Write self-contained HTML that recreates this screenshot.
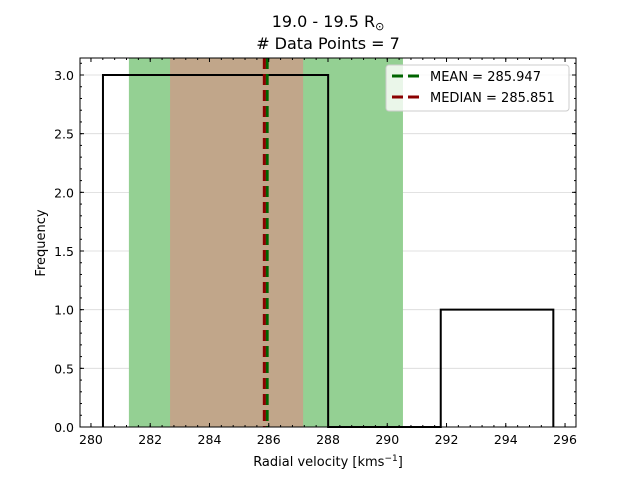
<!DOCTYPE html>
<html><head><meta charset="utf-8"><style>
body{margin:0;background:#fff;}
svg text{font-family:"DejaVu Sans","Liberation Sans",sans-serif;}
</style></head><body>
<svg id="chart" width="640" height="480" xmlns="http://www.w3.org/2000/svg">
<rect width="640" height="480" fill="#fff"/>
<text x="328" y="27" font-size="16" text-anchor="middle">19.0 - 19.5 R<tspan font-size="11" dy="3">⊙</tspan></text>
<text x="328" y="49" font-size="16" text-anchor="middle"># Data Points = 7</text>
<g id="plot"></g>
<text x="328" y="466" font-size="13" text-anchor="middle">Radial velocity [kms<tspan font-size="9" dy="-5">−1</tspan><tspan dy="5">]</tspan></text>
<text transform="translate(45,243) rotate(-90)" font-size="13" text-anchor="middle">Frequency</text>
</svg>
<script>
const binEdges=[280.405,284.205,288.005,291.805,295.605];
const counts=[3,3,0,1];
const meanVal=285.947, medianVal=285.851;
const stdBand=[281.28,290.53];
const iqrBand=[282.67,287.16];
const xTicks=[280,282,284,286,288,290,292,294,296];
const yTicks=[0,0.5,1,1.5,2,2.5,3];
const X0=80,X1=576,Y0=427,Y1=58;
const xmin=279.63,xmax=296.37,ymin=0,ymax=3.145;
const sx=v=>X0+(v-xmin)/(xmax-xmin)*(X1-X0);
const sy=v=>Y0-(v-ymin)/(ymax-ymin)*(Y0-Y1);
const NS="http://www.w3.org/2000/svg";
const g=document.getElementById('plot');
function mk(t,a){const e=document.createElementNS(NS,t);for(const k in a)e.setAttribute(k,a[k]);g.appendChild(e);return e;}
yTicks.forEach(v=>{const l=mk('line',{x1:X0,x2:X1,y1:sy(v),y2:sy(v),stroke:'#d9d9d9','stroke-width':0.8});

});
let r=mk('rect',{x:sx(stdBand[0]),y:Y1,width:sx(stdBand[1])-sx(stdBand[0]),height:Y0-Y1,fill:'#94d093'});


r=mk('rect',{x:sx(iqrBand[0]),y:Y1,width:sx(iqrBand[1])-sx(iqrBand[0]),height:Y0-Y1,fill:'#c1a68a'});


let d='M'+sx(binEdges[0])+','+sy(0);
counts.forEach((c,i)=>{d+=' L'+sx(binEdges[i])+','+sy(c)+' L'+sx(binEdges[i+1])+','+sy(c);});
d+=' L'+sx(binEdges[binEdges.length-1])+','+sy(0);
const h=mk('path',{d:d,fill:'none',stroke:'#000','stroke-width':2});


let l=mk('line',{x1:sx(meanVal),x2:sx(meanVal),y1:Y1,y2:Y0,stroke:'#006400','stroke-width':3,'stroke-dasharray':'11,5'});


l=mk('line',{x1:sx(medianVal),x2:sx(medianVal),y1:Y1,y2:Y0,stroke:'#8b0000','stroke-width':3,'stroke-dasharray':'11,5'});


const f=mk('rect',{x:X0,y:Y1,width:X1-X0,height:Y0-Y1,fill:'none',stroke:'#000','stroke-width':1});


xTicks.forEach(v=>{const x=sx(v);
mk('line',{x1:x,x2:x,y1:Y0,y2:Y0-4,stroke:'#000'});mk('line',{x1:x,x2:x,y1:Y1,y2:Y1+4,stroke:'#000'});
const t=mk('text',{x:x,y:Y0+17,'font-size':12.5,'text-anchor':'middle'});t.textContent=v;

});
for(let v=280;v<=296.01;v+=0.4){const x=sx(v);mk('line',{x1:x,x2:x,y1:Y0,y2:Y0-2,stroke:'#000'});mk('line',{x1:x,x2:x,y1:Y1,y2:Y1+2,stroke:'#000'});}
yTicks.forEach(v=>{const y=sy(v);
mk('line',{x1:X0,x2:X0+4,y1:y,y2:y,stroke:'#000'});mk('line',{x1:X1,x2:X1-4,y1:y,y2:y,stroke:'#000'});
const t=mk('text',{x:X0-6,y:y+5,'font-size':12.5,'text-anchor':'end'});t.textContent=v.toFixed(1);

});
for(let v=0;v<=3.15;v+=0.1){const y=sy(v);mk('line',{x1:X0,x2:X0+2,y1:y,y2:y,stroke:'#000'});mk('line',{x1:X1,x2:X1-2,y1:y,y2:y,stroke:'#000'});}
const lg=mk('rect',{x:386,y:65,width:183,height:46,rx:3,fill:'rgba(255,255,255,0.8)',stroke:'#ccc'});


[['MEAN = '+meanVal.toFixed(3),'#006400',81],['MEDIAN = '+medianVal.toFixed(3),'#8b0000',102]].forEach(([txt,c,y])=>{
const s=mk('line',{x1:392,x2:420,y1:y-5,y2:y-5,stroke:c,'stroke-width':3,'stroke-dasharray':'11,5'});


const t=mk('text',{x:430,y:y,'font-size':13});t.textContent=txt;

});
</script>
</body></html>
